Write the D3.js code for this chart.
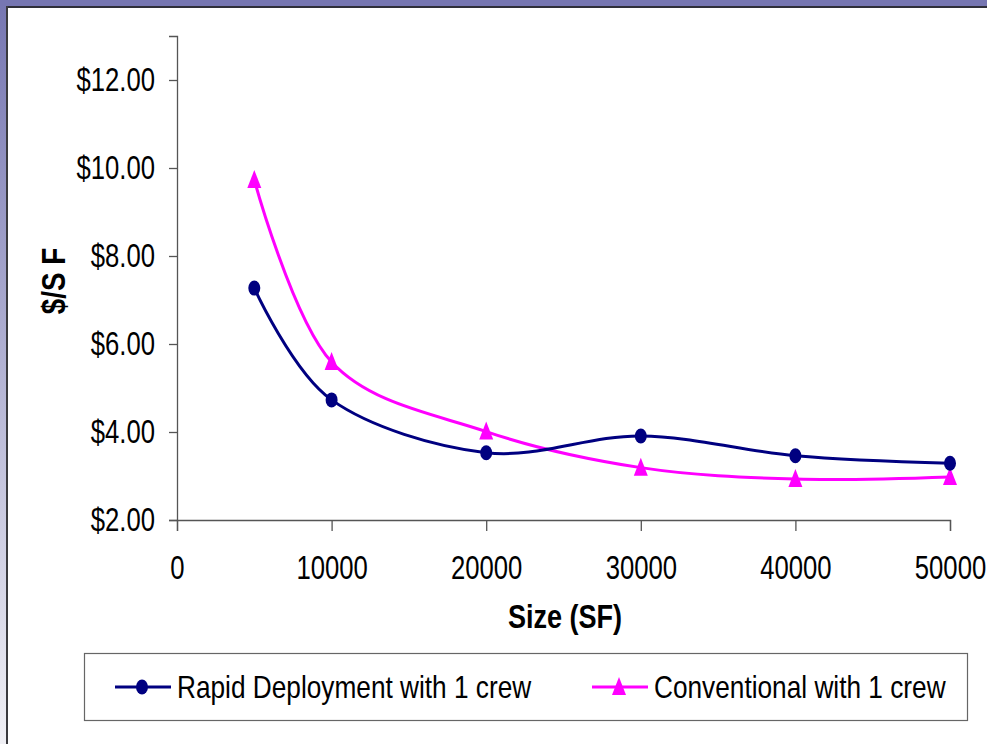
<!DOCTYPE html>
<html>
<head>
<meta charset="utf-8">
<script src="https://cdn.jsdelivr.net/npm/d3@7"></script>
<style>
  body { margin: 0; background: #fff; }
</style>
</head>
<body>
<div id="chart"></div>
<script>
// data
var sizes = [5000, 10000, 20000, 30000, 40000, 50000];
var rapid = [7.27, 4.73, 3.53, 3.91, 3.46, 3.29];
var conventional = [9.73, 5.59, 4.01, 3.19, 2.93, 2.98];
var seriesNames = ["Rapid Deployment with 1 crew", "Conventional with 1 crew"];
var xTicks = [0, 10000, 20000, 30000, 40000, 50000];
var yTicks = [2, 4, 6, 8, 10, 12];

var W = 987, H = 744;
var font = "'Liberation Sans', Arial, sans-serif";
var squeeze = 0.82;     // reference text is horizontally condensed
var tickSqueeze = 0.79;

var svg = d3.select("#chart").append("svg")
    .attr("width", W)
    .attr("height", H);

// slide frame
var defs = svg.append("defs");
var grad = defs.append("linearGradient")
    .attr("id", "sidegrad")
    .attr("x1", 0).attr("y1", 0).attr("x2", 0).attr("y2", 1);
grad.append("stop").attr("offset", "0%").attr("stop-color", "#7676b2");
grad.append("stop").attr("offset", "100%").attr("stop-color", "#f0f0f5");

svg.append("rect").attr("x", 0).attr("y", 0).attr("width", W).attr("height", H).attr("fill", "#fff");
svg.append("rect").attr("x", 0).attr("y", 0).attr("width", 6).attr("height", H).attr("fill", "url(#sidegrad)");
svg.append("rect").attr("x", 0).attr("y", 0).attr("width", W).attr("height", 6).attr("fill", "#7676b2");
svg.append("rect").attr("x", 6).attr("y", 6).attr("width", W - 6).attr("height", 2).attr("fill", "#2f2f3a");
svg.append("rect").attr("x", 6).attr("y", 6).attr("width", 2).attr("height", H - 6).attr("fill", "#3a3a3e");

var x = d3.scaleLinear().domain([0, 50000]).range([177, 950]);
var y = d3.scaleLinear().domain([2, 13]).range([520, 36]);

function narrowTicks(g) {
    g.selectAll(".tick text").each(function () {
        var t = d3.select(this);
        t.attr("x", (+t.attr("x") || 0) / tickSqueeze)
            .attr("transform", "scale(" + tickSqueeze + ",1)");
    });
}

// y axis
var yAxis = svg.append("g")
    .attr("transform", "translate(177,0)")
    .call(d3.axisLeft(y).tickValues(yTicks).tickSize(8).tickPadding(14)
        .tickFormat(function (d) { return "$" + d3.format(".2f")(d); }));
yAxis.select(".domain").attr("stroke", "#555").attr("stroke-width", 1.3);
yAxis.selectAll(".tick line").attr("stroke", "#555").attr("stroke-width", 1.3);
yAxis.selectAll(".tick text")
    .attr("font-family", font)
    .attr("font-size", "32.5px")
    .attr("fill", "#000");
narrowTicks(yAxis);

// x axis
var xAxis = svg.append("g")
    .attr("transform", "translate(0,520)")
    .call(d3.axisBottom(x).tickValues(xTicks).tickSize(11).tickPadding(25)
        .tickFormat(d3.format("d")));
xAxis.select(".domain").attr("stroke", "#555").attr("stroke-width", 1.3);
xAxis.selectAll(".tick line").attr("stroke", "#555").attr("stroke-width", 1.3);
xAxis.selectAll(".tick text")
    .attr("font-family", font)
    .attr("font-size", "32.5px")
    .attr("fill", "#000");
narrowTicks(xAxis);

// axis titles
svg.append("text")
    .attr("transform", "translate(65,281) rotate(-90) scale(" + squeeze + ",1)")
    .attr("text-anchor", "middle")
    .attr("font-family", font)
    .attr("font-size", "34px")
    .attr("font-weight", "700")
    .text("$/S F");

svg.append("text")
    .attr("transform", "translate(565,628) scale(" + squeeze + ",1)")
    .attr("text-anchor", "middle")
    .attr("font-family", font)
    .attr("font-size", "33px")
    .attr("font-weight", "700")
    .text("Size (SF)");

// lines
var data1 = sizes.map(function (s, i) { return { x: s, y: rapid[i] }; });
var data2 = sizes.map(function (s, i) { return { x: s, y: conventional[i] }; });

var line = d3.line()
    .x(function (d) { return x(d.x); })
    .y(function (d) { return y(d.y); })
    .curve(d3.curveCatmullRom.alpha(0));

svg.append("path").datum(data2)
    .attr("fill", "none").attr("stroke", "#ff00ff").attr("stroke-width", 3)
    .attr("d", line);
svg.append("path").datum(data1)
    .attr("fill", "none").attr("stroke", "#000080").attr("stroke-width", 3)
    .attr("d", line);

function triangle(cx, cy) {
    return "M" + cx + "," + (cy - 10) + "L" + (cx + 7) + "," + (cy + 8) + "L" + (cx - 7) + "," + (cy + 8) + "Z";
}

svg.selectAll(".tri").data(data2).enter().append("path")
    .attr("class", "tri")
    .attr("fill", "#ff00ff")
    .attr("d", function (d) { return triangle(x(d.x), y(d.y)); });

svg.selectAll(".dot").data(data1).enter().append("ellipse")
    .attr("class", "dot")
    .attr("fill", "#000080")
    .attr("cx", function (d) { return x(d.x); })
    .attr("cy", function (d) { return y(d.y); })
    .attr("rx", 6)
    .attr("ry", 7.5);

// legend
svg.append("rect")
    .attr("x", 84.5).attr("y", 653.5)
    .attr("width", 883).attr("height", 67)
    .attr("fill", "#fff").attr("stroke", "#666").attr("stroke-width", 1.2);

var ly = 687;
svg.append("line").attr("x1", 115).attr("x2", 171).attr("y1", ly).attr("y2", ly)
    .attr("stroke", "#000080").attr("stroke-width", 3);
svg.append("ellipse").attr("cx", 142).attr("cy", ly).attr("rx", 6).attr("ry", 7.5).attr("fill", "#000080");
svg.append("text")
    .attr("transform", "translate(177," + (ly + 11) + ") scale(" + squeeze + ",1)")
    .attr("font-family", font).attr("font-size", "32px")
    .text(seriesNames[0]);

svg.append("line").attr("x1", 592).attr("x2", 648).attr("y1", ly).attr("y2", ly)
    .attr("stroke", "#ff00ff").attr("stroke-width", 3);
svg.append("path").attr("d", triangle(619, ly)).attr("fill", "#ff00ff");
svg.append("text")
    .attr("transform", "translate(654," + (ly + 11) + ") scale(" + squeeze + ",1)")
    .attr("font-family", font).attr("font-size", "32px")
    .text(seriesNames[1]);
</script>
</body>
</html>
